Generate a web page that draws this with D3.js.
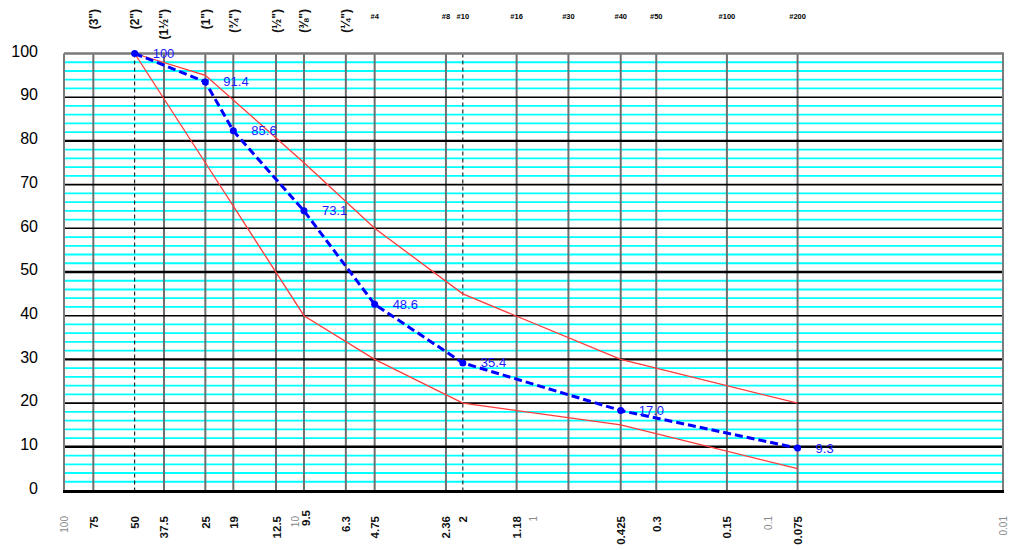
<!DOCTYPE html>
<html>
<head>
<meta charset="utf-8">
<script src="https://cdn.jsdelivr.net/npm/d3@7"></script>
<style>
  html, body { margin: 0; padding: 0; background: #fff; }
  svg { display: block; font-family: "Liberation Sans", Arial, sans-serif; }
</style>
</head>
<body>
<svg id="chart" width="1010" height="550"></svg>
<script>
// ---- data ----
const sieveSizes = [75, 37.5, 25, 19, 12.5, 9.5, 6.3, 4.75, 2.36, 1.18, 0.71, 0.425, 0.3, 0.15, 0.075];
const dashedSizes = [50, 2];
const topParenSizes = [75, 50, 37.5, 25, 19, 12.5, 9.5, 6.3];
const topParenLabels = ['(3")', '(2")', '(1½")', '(1")', '(¾")', '(½")', '(⅜")', '(¼")'];
const topSieveSizes = [4.75, 2.36, 2, 1.18, 0.71, 0.425, 0.3, 0.15, 0.075];
const topSieveLabels = ['#4', '#8', '#10', '#16', '#30', '#40', '#50', '#100', '#200'];
const bottomTickValues = [75, 50, 37.5, 25, 19, 12.5, 9.5, 6.3, 4.75, 2.36, 2, 1.18, 0.425, 0.3, 0.15, 0.075];
const bottomTickLabels = ['75', '50', '37.5', '25', '19', '12.5', '9.5', '6.3', '4.75', '2.36', '2', '1.18', '0.425', '0.3', '0.15', '0.075'];
const logTickValues = [100, 10, 1, 0.1, 0.01];
const logTickLabels = ['100', '10', '1', '0.1', '0.01'];
const yTicks = [0, 10, 20, 30, 40, 50, 60, 70, 80, 90, 100];
const specSizes = [50, 25, 9.5, 4.75, 2, 0.425, 0.075];
const specUpper = [100, 95, 75, 60, 45, 30, 20];
const specLower = [100, 75, 40, 30, 20, 15, 5];
const sampleSizes = [50, 25, 19, 9.5, 4.75, 2, 0.425, 0.075];
const samplePassing = [100, 93.5, 82.3, 64.0, 42.6, 29.2, 18.3, 9.7];
const sampleLabels = ['100', '91.4', '85.6', '73.1', '48.6', '35.4', '17.0', '9.3'];

// ---- layout ----
const L = 64, R = 1003, T = 53.5, B = 490.5;
const svg = d3.select('#chart');
const x = d3.scaleLog().domain([100, 0.01]).range([L, R]);
const y = d3.scaleLinear().domain([0, 100]).range([B, T]);

// cyan minor lines every 2 units
const minor = d3.range(2, 100, 2).filter(v => v % 10 !== 0);
svg.append('g').selectAll('line').data(minor).join('line')
  .attr('x1', L).attr('x2', R)
  .attr('y1', d => y(d)).attr('y2', d => y(d))
  .attr('stroke', '#00ffff').attr('stroke-width', 1.8);

// gray vertical sieve lines
svg.append('g').selectAll('line').data(sieveSizes).join('line')
  .attr('x1', d => x(d)).attr('x2', d => x(d))
  .attr('y1', T).attr('y2', B)
  .attr('stroke', '#6e6e6e').attr('stroke-width', 2);

// black horizontal major lines
const thick = new Set([0, 10, 30, 50, 80]);
svg.append('g').selectAll('line').data(yTicks.filter(v => v !== 0 && v !== 100)).join('line')
  .attr('x1', L).attr('x2', R)
  .attr('y1', d => y(d)).attr('y2', d => y(d))
  .attr('stroke', '#000').attr('stroke-width', d => thick.has(d) ? 2.4 : 1.6);

// dashed verticals
svg.append('g').selectAll('line').data(dashedSizes).join('line')
  .attr('x1', d => x(d)).attr('x2', d => x(d))
  .attr('y1', T).attr('y2', B)
  .attr('stroke', '#000').attr('stroke-width', 1)
  .attr('stroke-dasharray', '4,3');

// frame
svg.append('line').attr('x1', L).attr('x2', R + 1).attr('y1', T).attr('y2', T)
  .attr('stroke', '#7a7a7a').attr('stroke-width', 2.5);
svg.append('line').attr('x1', L).attr('x2', L).attr('y1', T).attr('y2', B)
  .attr('stroke', '#7a7a7a').attr('stroke-width', 2);
svg.append('line').attr('x1', R).attr('x2', R).attr('y1', T).attr('y2', B)
  .attr('stroke', '#7a7a7a').attr('stroke-width', 2);
svg.append('line').attr('x1', L - 1).attr('x2', R + 1).attr('y1', B + 1).attr('y2', B + 1)
  .attr('stroke', '#000').attr('stroke-width', 3);

// spec envelope
const specLine = d3.line().x(d => x(d[0])).y(d => y(d[1]));
[specUpper, specLower].forEach(arr => {
  svg.append('path')
    .datum(specSizes.map((s, i) => [s, arr[i]]))
    .attr('d', specLine)
    .attr('fill', 'none').attr('stroke', '#ff3b3b').attr('stroke-width', 1.3);
});

// sample curve
const sample = sampleSizes.map((s, i) => ({ s, v: samplePassing[i], t: sampleLabels[i] }));
svg.append('path').datum(sample)
  .attr('d', d3.line().x(d => x(d.s)).y(d => y(d.v)))
  .attr('fill', 'none').attr('stroke', '#0000ff').attr('stroke-width', 3)
  .attr('stroke-dasharray', '8,4');
svg.append('g').selectAll('circle').data(sample).join('circle')
  .attr('cx', d => x(d.s)).attr('cy', d => y(d.v)).attr('r', 3.5)
  .attr('fill', '#0000ff');
svg.append('g').selectAll('text').data(sample).join('text')
  .attr('x', d => x(d.s) + 18).attr('y', d => y(d.v)).attr('dy', '0.35em')
  .attr('font-size', 13).attr('fill', '#1a1aff')
  .text(d => d.t);

// y axis labels
svg.append('g').selectAll('text').data(yTicks).join('text')
  .attr('x', 38).attr('y', d => y(d)).attr('dy', '0.2em')
  .attr('text-anchor', 'end').attr('font-size', 16).attr('fill', '#000')
  .text(d => d);

// bottom sieve labels (rotated)
svg.append('g').selectAll('text').data(bottomTickValues).join('text')
  .attr('transform', d => `translate(${x(d) + (d === 9.5 ? 6 : 4.5)},${d === 9.5 ? 510 : 516}) rotate(-90)`)
  .attr('text-anchor', 'end').attr('font-size', 11.5).attr('font-weight', 'bold')
  .attr('fill', '#111')
  .text((d, i) => bottomTickLabels[i]);

// gray log labels
svg.append('g').selectAll('text').data(logTickValues).join('text')
  .attr('transform', d => `translate(${x(d) + (d === 10 ? 0 : 3.5)},${516}) rotate(-90)`)
  .attr('text-anchor', 'end').attr('font-size', 10)
  .attr('fill', '#8a8a8a')
  .text((d, i) => logTickLabels[i]);

// top inch labels (rotated)
svg.append('g').selectAll('text').data(topParenSizes).join('text')
  .attr('transform', d => `translate(${x(d) + 4.5},9) rotate(-90)`)
  .attr('text-anchor', 'end').attr('font-size', 12).attr('font-weight', 'bold')
  .attr('fill', '#111')
  .text((d, i) => topParenLabels[i]);

// top sieve number labels (tiny)
svg.append('g').selectAll('text').data(topSieveSizes).join('text')
  .attr('x', d => x(d)).attr('y', 19)
  .attr('text-anchor', 'middle').attr('font-size', 7.5).attr('font-weight', 'bold')
  .attr('fill', '#000')
  .text((d, i) => topSieveLabels[i]);
</script>
</body>
</html>
